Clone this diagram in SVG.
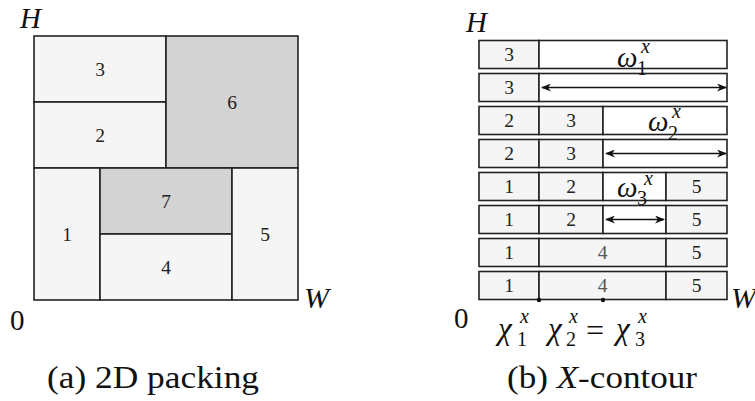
<svg xmlns="http://www.w3.org/2000/svg" width="755" height="401" viewBox="0 0 755 401">
<style>
.c{fill:#f5f5f5;stroke:#222;stroke-width:1.6}
.g{fill:#d3d3d3;stroke:#222;stroke-width:1.6}
.w{fill:#fff;stroke:#222;stroke-width:1.6}
.d{font-size:19.5px;fill:#222;text-anchor:middle}
.m{font-style:italic;font-size:29px;fill:#111}
.r{font-size:29px;fill:#111}
.s{font-size:20px;fill:#111}
.si{font-style:italic;font-size:20px;fill:#111}
.cap{font-size:31px;fill:#111}
.a{stroke:#111;stroke-width:1.6;fill:none;marker-start:url(#ah);marker-end:url(#ah)}
</style>
<defs>
<marker id="ah" viewBox="0 0 10 8" refX="9" refY="4" markerWidth="11" markerHeight="8" markerUnits="userSpaceOnUse" orient="auto-start-reverse">
<path d="M0,0 L10,4 L0,8 L3,4 z" fill="#111"/>
</marker>
</defs>

<g id="a-block3"><rect class="c" x="34" y="36" width="132" height="66"/><text font-family="Liberation Serif" class="d" x="100" y="76">3</text></g>
<g id="a-block2"><rect class="c" x="34" y="102" width="132" height="66"/><text font-family="Liberation Serif" class="d" x="100" y="142">2</text></g>
<g id="a-block6"><rect class="g" x="166" y="36" width="132" height="132"/><text font-family="Liberation Serif" class="d" x="232" y="109">6</text></g>
<g id="a-block1"><rect class="c" x="34" y="168" width="66" height="132"/><text font-family="Liberation Serif" class="d" x="67" y="241">1</text></g>
<g id="a-block7"><rect class="g" x="100" y="168" width="132" height="66"/><text font-family="Liberation Serif" class="d" x="166" y="208">7</text></g>
<g id="a-block4"><rect class="c" x="100" y="234" width="132" height="66"/><text font-family="Liberation Serif" class="d" x="166" y="274">4</text></g>
<g id="a-block5"><rect class="c" x="232" y="168" width="66" height="132"/><text font-family="Liberation Serif" class="d" x="265" y="241">5</text></g>
<text font-family="Liberation Serif" class="m" x="20" y="28">H</text>
<text font-family="Liberation Serif" class="r" x="10" y="330">0</text>
<text font-family="Liberation Serif" class="m" x="304" y="308" style="font-size:30px">W</text>

<g id="row1"><rect class="c" x="479" y="40.5" width="60" height="28"/><rect class="w" x="539" y="40.5" width="188" height="28"/><text font-family="Liberation Serif" class="d" x="509" y="61">3</text></g>
<g id="row2"><rect class="c" x="479" y="73.5" width="60" height="28"/><rect class="w" x="539" y="73.5" width="188" height="28"/><text font-family="Liberation Serif" class="d" x="509" y="94">3</text></g>
<g id="row3"><rect class="c" x="479" y="106.5" width="60" height="28"/><rect class="c" x="539" y="106.5" width="64" height="28"/><rect class="w" x="603" y="106.5" width="124" height="28"/><text font-family="Liberation Serif" class="d" x="509" y="127">2</text><text font-family="Liberation Serif" class="d" x="571" y="127">3</text></g>
<g id="row4"><rect class="c" x="479" y="139.5" width="60" height="28"/><rect class="c" x="539" y="139.5" width="64" height="28"/><rect class="w" x="603" y="139.5" width="124" height="28"/><text font-family="Liberation Serif" class="d" x="509" y="160">2</text><text font-family="Liberation Serif" class="d" x="571" y="160">3</text></g>
<g id="row5"><rect class="c" x="479" y="172.5" width="60" height="28"/><rect class="c" x="539" y="172.5" width="64" height="28"/><rect class="w" x="603" y="172.5" width="63" height="28"/><rect class="c" x="666" y="172.5" width="61" height="28"/><text font-family="Liberation Serif" class="d" x="509" y="193">1</text><text font-family="Liberation Serif" class="d" x="571" y="193">2</text><text font-family="Liberation Serif" class="d" x="696.5" y="193">5</text></g>
<g id="row6"><rect class="c" x="479" y="205.5" width="60" height="28"/><rect class="c" x="539" y="205.5" width="64" height="28"/><rect class="w" x="603" y="205.5" width="63" height="28"/><rect class="c" x="666" y="205.5" width="61" height="28"/><text font-family="Liberation Serif" class="d" x="509" y="226">1</text><text font-family="Liberation Serif" class="d" x="571" y="226">2</text><text font-family="Liberation Serif" class="d" x="696.5" y="226">5</text></g>
<g id="row7"><rect class="c" x="479" y="238.5" width="60" height="28"/><rect class="c" x="539" y="238.5" width="127" height="28"/><rect class="c" x="666" y="238.5" width="61" height="28"/><text font-family="Liberation Serif" class="d" x="509" y="259">1</text><text font-family="Liberation Serif" class="d" x="602.5" y="259" style="fill:#555">4</text><text font-family="Liberation Serif" class="d" x="696.5" y="259">5</text></g>
<g id="row8"><rect class="c" x="479" y="271.5" width="60" height="28"/><rect class="c" x="539" y="271.5" width="127" height="28"/><rect class="c" x="666" y="271.5" width="61" height="28"/><text font-family="Liberation Serif" class="d" x="509" y="292">1</text><text font-family="Liberation Serif" class="d" x="602.5" y="292" style="fill:#555">4</text><text font-family="Liberation Serif" class="d" x="696.5" y="292">5</text></g>

<g id="connectors">
<line class="a" x1="542" y1="87.5" x2="726" y2="87.5"/>
<line class="a" x1="606" y1="153.5" x2="726" y2="153.5"/>
<line class="a" x1="606" y1="219.5" x2="664" y2="219.5"/>
</g>

<g id="labels">
<text font-family="Liberation Serif" class="m" x="617" y="66.5">ω</text><text font-family="Liberation Serif" class="s" x="637" y="75">1</text><text font-family="Liberation Serif" class="si" x="641" y="53">x</text>
<text font-family="Liberation Serif" class="m" x="648" y="131">ω</text><text font-family="Liberation Serif" class="s" x="668" y="139.5">2</text><text font-family="Liberation Serif" class="si" x="672" y="118">x</text>
<text font-family="Liberation Serif" class="m" x="617" y="197">ω</text><text font-family="Liberation Serif" class="s" x="637" y="205">3</text><text font-family="Liberation Serif" class="si" x="644" y="185">x</text>
</g>

<circle cx="539" cy="300" r="2.2" fill="#111"/>
<circle cx="603" cy="300" r="2.2" fill="#111"/>

<text font-family="Liberation Serif" class="m" x="466" y="32">H</text>
<text font-family="Liberation Serif" class="r" x="454" y="328">0</text>
<text font-family="Liberation Serif" class="m" x="731" y="308" style="font-size:30px">W</text>
<text font-family="Liberation Serif" class="m" x="498" y="339" style="font-size:31px">χ</text><text font-family="Liberation Serif" class="s" x="517" y="346">1</text><text font-family="Liberation Serif" class="si" x="520" y="323">x</text>
<text font-family="Liberation Serif" class="m" x="548" y="339" style="font-size:31px">χ</text><text font-family="Liberation Serif" class="s" x="566" y="346">2</text><text font-family="Liberation Serif" class="si" x="569" y="323">x</text>
<text font-family="Liberation Serif" class="r" x="586" y="341" style="font-size:32px">=</text>
<text font-family="Liberation Serif" class="m" x="616" y="339" style="font-size:31px">χ</text><text font-family="Liberation Serif" class="s" x="635" y="346">3</text><text font-family="Liberation Serif" class="si" x="638" y="323">x</text>

<text font-family="Liberation Serif" class="cap" x="47" y="388" textLength="212" lengthAdjust="spacingAndGlyphs">(a) 2D packing</text>
<text font-family="Liberation Serif" class="cap" x="507" y="388" textLength="190" lengthAdjust="spacingAndGlyphs">(b) <tspan font-style="italic">X</tspan>-contour</text>
</svg>
